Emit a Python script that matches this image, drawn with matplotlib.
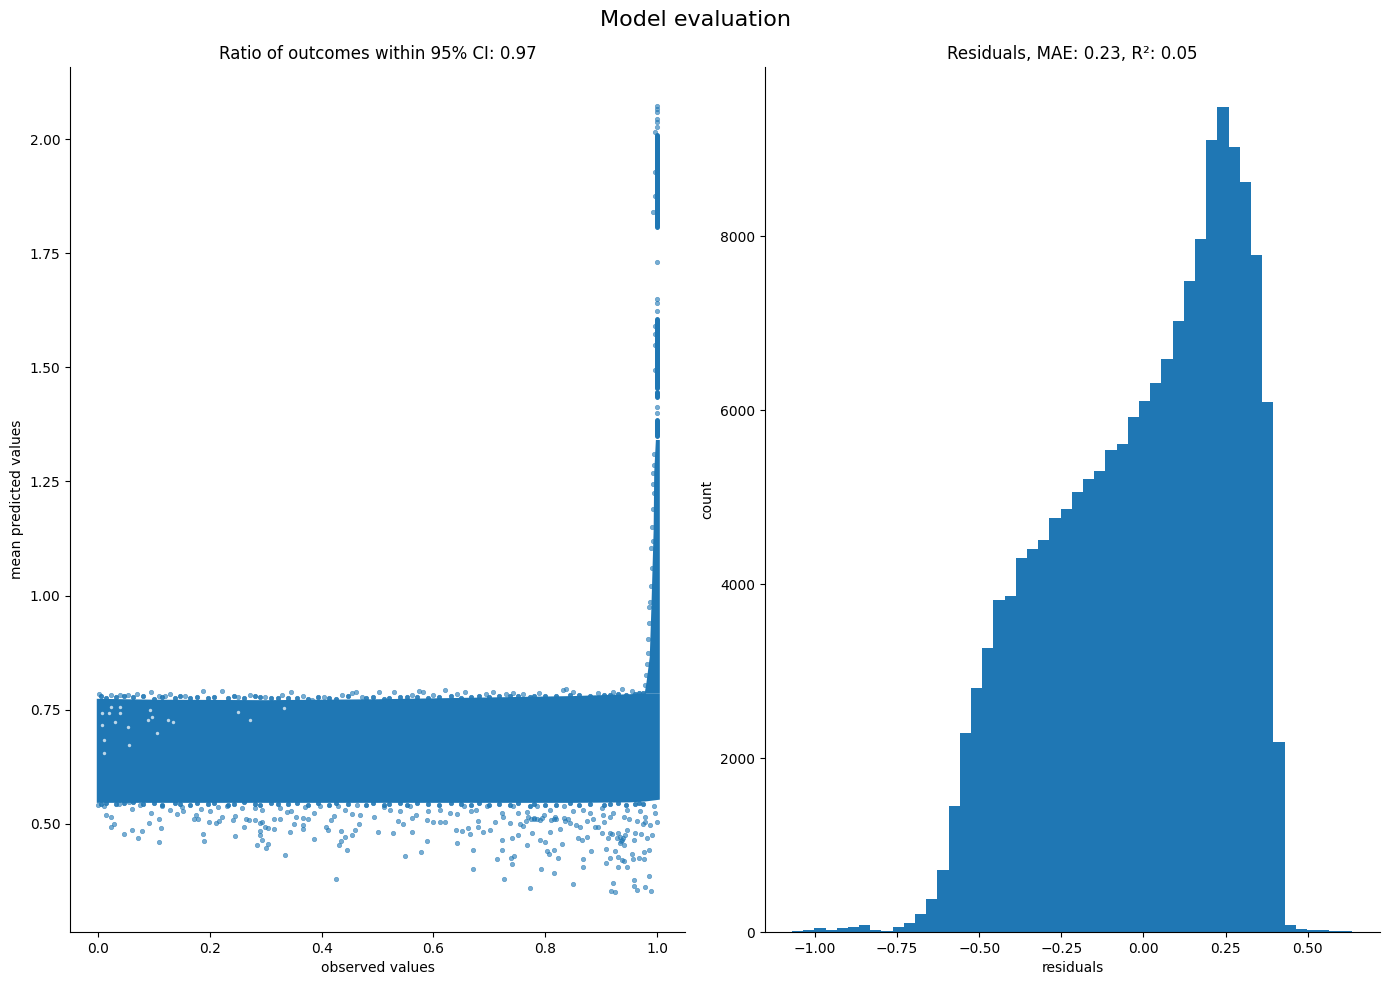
import matplotlib
matplotlib.use('Agg')
import matplotlib.pyplot as plt

band_x = [-0.003, 0.10, 0.30, 0.50, 0.70, 0.85, 0.95, 0.978, 1.004]
band_upper = [0.775, 0.773, 0.772, 0.774, 0.778, 0.781, 0.785, 0.787, 0.787]
band_lower = [0.547, 0.547, 0.547, 0.547, 0.547, 0.547, 0.548, 0.550, 0.554]

# rising part near observed = 1
spike_y = [0.787, 0.809, 0.866, 0.976, 1.145, 1.270, 1.342]
spike_left = [0.977, 0.980, 0.986, 0.989, 0.993, 0.994, 0.997]
spike_right = [1.004, 1.004, 1.004, 1.004, 1.004, 1.004, 1.004]

# solid stretches higher up the spike
segment_lo = [1.349, 1.435, 1.455, 1.808]
segment_hi = [1.384, 1.445, 1.607, 2.010]
segment_x = 1.0

# single points outside the dense part
low_x = [.015, .024, .029, .024, .047, .061, .078, .072, .110, .113, .092, .110, .094, .060, .142, .153,
         .172, .176, .179, .199, .187, .190, .212, .217, .221, .246, .242, .246, .262, .264, .271, .281,
         .289, .294, .298, .305, .314, .290, .289, .294, .285, .305, .301, .335, .344, .351, .367, .367,
         .387, .387, .408, .412, .417, .423, .435, .442, .434, .432, .446, .455, .460, .466, .469, .455,
         .426, .314, .326, .339, .355, .376, .367, .441,
         .500, .528, .562, .589, .550, .577, .643, .641, .652, .666, .679, .671, .671, .714, .723, .727,
         .741, .739, .745, .773, .793, .815, .804, .816, .806, .823, .849, .867, .868, .882, .909, .915,
         .909, .924, .930, .931, .938, .940, .947, .956, .957, .977, .967, .976, .986, .985, .958, .958,
         .965, .979, .990, .918, .924, .922,
         .537, .545, .561, .568, .589, .600, .611, .620, .630, .643, .662, .679, .668, .689, .701, .711,
         .722, .725, .737, .741, .751, .752, .761, .768, .768, .776, .779, .791, .800, .797, .809, .818,
         .826, .830, .833, .845, .859, .866, .874, .889, .901, .904, .916, .931, .937, .940, .934, .946,
         .958, .961, .979, .982, .991, .999, .997, .940, .916, .880, .850,
         .000, .011, .038, .056, .076, .114, .129, .150, .185, .200, .215, .230, .257, .281, .293, .326,
         .346, .370, .397, .430, .463, .493, .511, .522, .541, .558, .591, .612, .654, .677, .696, .722,
         .743, .785, .809, .833, .868, .901, .922, .946, .970, .994,
         .775, .780, .785, .770, .765, .790, .795, .755, .810, .815, .820, .835, .840, .855, .862, .875,
         .885, .895, .905, .912, .920, .928, .933, .936, .939, .943, .950, .964, .972, .975, .978, .988]
low_y = [.519, .514, .499, .493, .477, .486, .484, .469, .460, .490, .501, .510, .523, .532, .521, .528,
         .510, .519, .510, .504, .477, .462, .501, .506, .515, .517, .508, .473, .493, .510, .508, .508,
         .501, .504, .493, .490, .488, .484, .475, .464, .453, .455, .447, .431, .482, .499, .497, .488,
         .466, .523, .493, .486, .508, .517, .484, .471, .462, .453, .442, .475, .486, .499, .519, .521,
         .379, .510, .510, .526, .515, .510, .512, .530,
         .482, .480, .482, .462, .429, .438, .458, .486, .484, .477, .493, .442, .401, .422, .442, .379,
         .412, .425, .429, .359, .401, .392, .440, .442, .433, .425, .368, .422, .405, .440, .444, .425,
         .414, .440, .405, .427, .421, .418, .405, .433, .422, .422, .425, .438, .443, .385, .376, .363,
         .355, .361, .352, .352, .350, .370,
         .507, .499, .512, .519, .509, .505, .504, .505, .523, .521, .490, .507, .529, .483, .486, .505,
         .465, .516, .501, .469, .476, .523, .496, .525, .454, .479, .511, .465, .461, .520, .483, .516,
         .488, .456, .512, .501, .469, .465, .472, .492, .480, .520, .480, .480, .465, .454, .458, .487,
         .465, .480, .505, .470, .476, .504, .523, .516, .516, .523, .527,
         .542, .539, .544, .547, .542, .538, .531, .537, .532, .527, .537, .538, .534, .534, .531, .534,
         .527, .536, .538, .538, .542, .516, .537, .531, .527, .538, .527, .531, .539, .531, .538, .523,
         .538, .538, .531, .538, .531, .534, .523, .531, .527, .538,
         .511, .512, .510, .514, .507, .509, .512, .500, .509, .511, .510, .507, .511, .498, .492, .506,
         .510, .494, .505, .470, .478, .468, .472, .462, .470, .476, .510, .506, .478, .500, .514, .498]

top_x = [.001, .024, .040, .054, .070, .094, .110, .120, .129, .156, .187, .221, .251, .272, .298, .330,
         .346, .366, .382, .405, .437, .455, .462, .473, .502, .530, .561, .575, .582, .600, .620, .642,
         .656, .694, .707, .730, .743, .761, .789, .831, .838, .850, .895, .938, .922, .955]
top_y = [.785, .782, .782, .782, .784, .789, .780, .780, .784, .780, .791, .791, .778, .782, .778, .782,
         .789, .780, .772, .778, .782, .786, .789, .778, .789, .789, .782, .791, .789, .782, .793, .784,
         .789, .784, .789, .784, .786, .784, .786, .793, .795, .789, .786, .795, .789, .792]

# points that make the lumpy rim of the dense part
rim_x = [.005, .015, .032, .047, .062, .080, .100, .115, .138, .147, .165, .178, .196, .208, .232, .243,
         .262, .280, .290, .310, .322, .340, .356, .375, .394, .413, .425, .447, .480, .492, .512, .520,
         .540, .552, .570, .590, .610, .632, .650, .668, .682, .700, .718, .737, .752, .772, .780, .800,
         .820, .845, .860, .880, .905, .915, .930, .945, .960, .968, .975]
rim_top = [.780, .776, .778, .779, .777, .780, .774, .777, .776, .779, .775, .778, .776, .777, .775, .779,
           .776, .780, .777, .775, .776, .775, .776, .774, .777, .776, .773, .779, .775, .777, .774, .776,
           .778, .777, .778, .776, .777, .779, .776, .778, .780, .778, .781, .780, .779, .778, .781, .780,
           .781, .782, .782, .781, .783, .782, .784, .783, .785, .786, .787]
rim_bottom = [.544, .546, .543, .545, .547, .543, .545, .542, .546, .544, .541, .545, .543, .546, .542, .544,
              .547, .543, .541, .545, .543, .544, .546, .542, .545, .541, .546, .543, .542, .545, .541, .544,
              .546, .542, .545, .543, .541, .545, .543, .542, .546, .541, .544, .542, .545, .540, .544, .542,
              .541, .545, .542, .544, .541, .543, .545, .541, .543, .546, .544]

# gaps in the sparse top left of the dense part
gap_x = [.008, .008, .010, .010, .024, .039, .030, .054, .093, .090, .105, .126, .251, .332, .272, .056,
         .020, .039, .096, .135]
gap_y = [.743, .717, .684, .655, .757, .757, .724, .713, .750, .728, .699, .728, .746, .754, .728, .673,
         .743, .743, .735, .722]

spike_dot_x = [1.0, 1.0, 1.0, 1.0, 1.0, 1.0, 1.0, 1.0, 1.0, 1.0, 1.0, 1.0, .9955, .9965, .9955, .993,
               .9955, .9965, .9965, .9965,
               .993, .994, .992, .991, .990, .991, .989, .988, .986, .985, .983, .984, .982, .980, .979,
               .994, .993, .995, .992]
spike_dot_y = [2.072, 2.066, 2.059, 2.044, 2.037, 2.026, 1.730, 1.649, 1.642, 1.623, 1.414, 1.399, 2.015, 1.928,
               1.875, 1.840, 1.572, 1.495, 1.590, 1.548,
               1.268, 1.225, 1.190, 1.150, 1.105, 1.060, 1.020, .985, .975, .940, .905, .875, .850, .825, .805,
               1.310, 1.245, 1.285, 1.120]

# histogram of the residuals
hist_edges = [-1.07 + 0.03408 * i for i in range(51)]
hist_counts = [12, 23, 46, 23, 46, 58, 80, 23, 12, 58,
               104, 207, 380, 713, 1450, 2290, 2800, 3270, 3820, 3860,
               4300, 4400, 4510, 4760, 4860, 5060, 5210, 5300, 5540, 5610,
               5920, 6100, 6310, 6590, 7020, 7490, 7970, 9110, 9480, 9030,
               8620, 7780, 6090, 2190, 80, 38, 27, 27, 15, 15]

fig, (ax1, ax2) = plt.subplots(1, 2, figsize=(13.9, 9.85), dpi=100)
fig.subplots_adjust(left=70 / 1390, right=1380 / 1390, top=1 - 67 / 985, bottom=1 - 932 / 985, wspace=0.1300)
fig.suptitle('Model evaluation', fontsize=16, y=0.9795, va='center')

blue = '#1f77b4'
ax1.fill_between(band_x, band_lower, band_upper, color=blue, linewidth=0)
ax1.fill_betweenx(spike_y, spike_left, spike_right, color=blue, linewidth=0)
ax1.vlines([segment_x] * len(segment_lo), segment_lo, segment_hi, color=blue, linewidth=3.6, capstyle='round')
ax1.scatter(gap_x, gap_y, s=6, color='white', alpha=0.7, linewidths=0)
dot_style = dict(s=10, color=blue, alpha=0.6, linewidths=0.5)
rim_style = dict(s=10, color=blue, alpha=0.9, linewidths=0.5)
ax1.scatter(low_x, low_y, **dot_style)
ax1.scatter(top_x, top_y, **dot_style)
ax1.scatter(rim_x, rim_top, **rim_style)
ax1.scatter(rim_x, rim_bottom, **rim_style)
ax1.scatter(spike_dot_x, spike_dot_y, **dot_style)
ax1.set_xlim(-0.05, 1.05)
ax1.set_ylim(0.263, 2.158)
ax1.set_xlabel('observed values')
ax1.set_ylabel('mean predicted values')
ax1.set_title('Ratio of outcomes within 95% CI: 0.97')

ax2.stairs(hist_counts, hist_edges, fill=True, color=blue)
ax2.set_xlim(-1.152, 0.72)
ax2.set_ylim(0, 9945)
ax2.set_xlabel('residuals')
ax2.set_ylabel('count')
ax2.set_title('Residuals, MAE: 0.23, R²: 0.05')

for ax in (ax1, ax2):
    ax.spines['top'].set_visible(False)
    ax.spines['right'].set_visible(False)

fig.savefig('out.png', dpi=100)
